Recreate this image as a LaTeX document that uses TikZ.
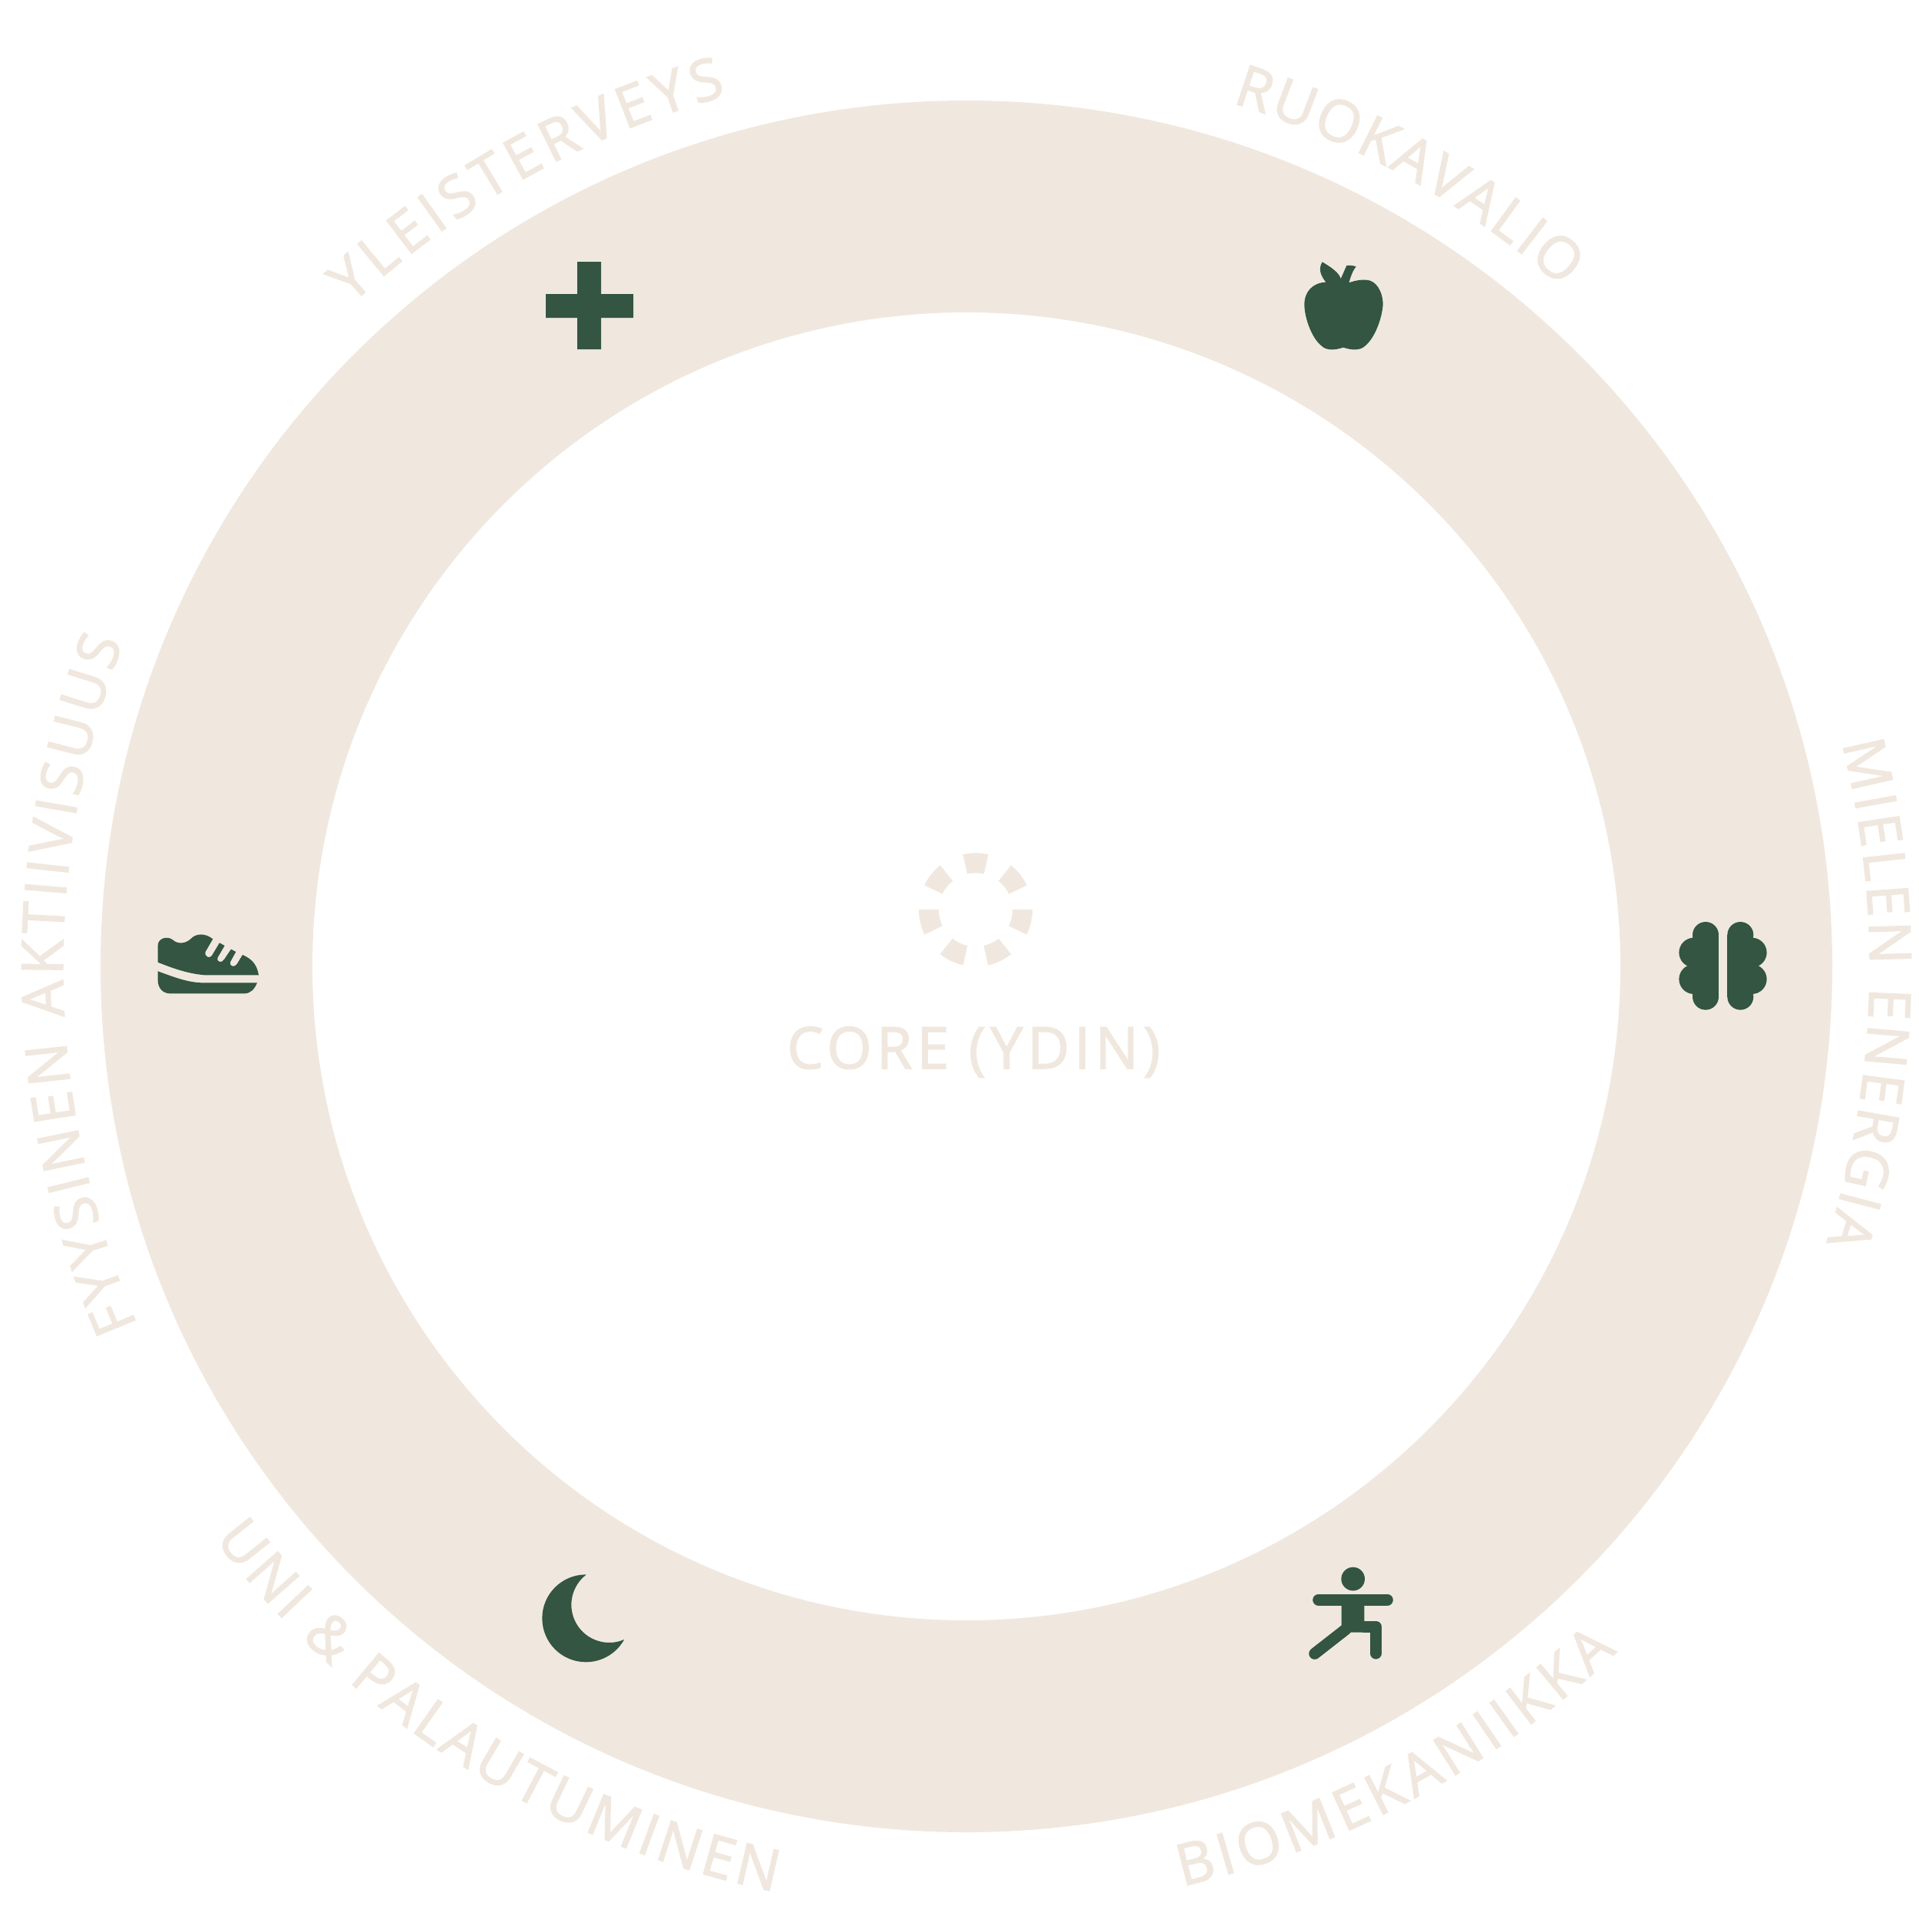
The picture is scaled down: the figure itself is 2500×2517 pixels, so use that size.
\documentclass[tikz,border=0pt]{standalone}
\usepackage{fontspec}
\newfontfamily\lblbase[FakeBold=2]{Open Sans}
\newfontfamily\corebase[FakeBold=2,LetterSpace=8.3]{Open Sans}
\newcommand{\lblfont}{\lblbase\fontsize{75}{90}\selectfont}
\newcommand{\corefont}{\corebase\fontsize{75}{90}\selectfont}
\definecolor{ringc}{HTML}{F0E8DF}
\definecolor{iconc}{HTML}{335542}
\newlength\arclen
\newlength\arcsum
\newlength\arccur
\newlength\arctrack
\newcount\arcn
\newsavebox\arcbox
\newcommand{\measureletter}[1]{%
  \pgfinterruptpicture
  \sbox\arcbox{\lblfont #1}%
  \global\arclen=\wd\arcbox
  \endpgfinterruptpicture
}
% name, baseline radius, start angle, end angle, offset to rotation, letters
\newcommand{\arctext}[6]{%
  \global\arcsum=0pt \global\arcn=0
  \foreach \ltr in {#6}{%
    \measureletter{\ltr}%
    \global\advance\arcsum by \arclen
    \global\advance\arcn by 1
  }%
  \pgfmathsetmacro{\arctot}{abs(#4-#3)*pi/180*#2}%
  \pgfmathsetlength{\arctrack}{(\arctot-\arcsum)/(\arcn-1)}%
  \global\arctrack=\arctrack
  \global\arccur=0pt
  \pgfmathsetmacro{\arcsgn}{(#4>#3)?1:-1}%
  \foreach \ltr [count=\i] in {#6}{%
    \measureletter{\ltr}%
    \pgfmathsetmacro{\arcang}{#3+\arcsgn*(\arccur+0.5*\arclen)/#2*57.29578}%
    \pgfmathsetmacro{\arcrot}{\arcang+#5}%
    \node[lettermark,rotate=\arcrot] (#1\i) at ({1259+#2*cos(\arcang)},{1259-#2*sin(\arcang)}) {\ltr};
    \global\advance\arccur by \arclen
    \global\advance\arccur by \arctrack
  }%
}
\tikzset{
  lettermark/.style={font=\lblfont,text=ringc,inner sep=0pt,outer sep=0pt,anchor=base},
  limb/.style={draw=iconc,line width=15pt,line cap=round,line join=round},
  zoomed/.style n args={2}{shift={(#1,#2)},x=0.3333pt,y=-0.3333pt},
}
\begin{document}
\begin{tikzpicture}[x=1pt,y=-1pt]
\useasboundingbox (0,0) rectangle (2500,2517);
\fill[white] (0,0) rectangle (2500,2517);
% ring
\fill[ringc,even odd rule] (1259,1259) circle[radius=1128] (1259,1259) circle[radius=852];
% core icon
\begin{scope}[shift={(1271,1185.3)}]
\foreach \k in {0,...,6}{
  \pgfmathsetmacro{\aa}{-90+\k*51.4286}
  \fill[ringc] (\aa-13:74) arc[start angle=\aa-13,end angle=\aa+13,radius=74]
     -- (\aa+13:48) arc[start angle=\aa+13,end angle=\aa-13,radius=48] -- cycle;
}
\end{scope}
\node[font=\corefont,text=ringc,inner sep=0pt,anchor=base] (core) at (1268.5,1392) {CORE (YDIN)};
% labels
\arctext{gen}{1177}{132.9}{105.4}{-90}{Y,L,E,I,S,T,E,R,V,E,Y,S}
\arctext{ruo}{1177}{72.9}{48.7}{-90}{R,U,O,K,A,V,A,L,I,O}
\arctext{mie}{1177}{14.3}{-17.8}{-90}{M,I,E,L,E,N,~,E,N,E,R,G,I,A}
\arctext{fyy}{1177}{203.4}{159.0}{-90}{F,Y,Y,S,I,N,E,N,~,A,K,T,I,I,V,I,S,U,U,S}
\arctext{bio}{1231}{-76.8}{-46.5}{90}{B,I,O,M,E,K,A,N,I,I,K,K,A}
\arctext{uni}{1231}{217.3}{258.3}{90}{U,N,I,~,\&,~,P,A,L,A,U,T,U,M,I,N,E,N}
% cross
\fill[iconc] (752,341) -- (783,341) -- (783,383) -- (825,383) -- (825,414) -- (783,414) -- (783,455) -- (752,455) -- (752,414) -- (711,414) -- (711,383) -- (752,383) -- cycle;
% apple
\begin{scope}[zoomed={1650}{300}]
\fill[iconc] (322,205) .. controls (350,195) and (380,190) .. (405,197) .. controls (440,210) and (455,255) .. (455,290) .. controls (452,340) and (425,420) .. (385,452) .. controls (365,472) and (330,468) .. (300,458) .. controls (270,468) and (235,472) .. (215,452) .. controls (175,420) and (148,340) .. (148,290) .. controls (148,240) and (180,205) .. (232,203) .. controls (210,175) and (202,150) .. (218,124) .. controls (245,140) and (285,165) .. (290,190) -- (313,138) .. controls (325,136) and (340,138) .. (350,142) .. controls (335,160) and (328,185) .. (322,205) -- cycle;
\end{scope}
% brain
\begin{scope}[zoomed={2150}{1170}]
\fill[iconc] (216,144) circle[radius=51];
\fill[iconc] (216,386) circle[radius=51];
\fill[iconc] (165,144) rectangle (267,386);
\fill[iconc] (170,213) circle[radius=58];
\fill[iconc] (170,317) circle[radius=58];
\fill[iconc] (352,144) circle[radius=51];
\fill[iconc] (352,386) circle[radius=51];
\fill[iconc] (301,144) rectangle (403,386);
\fill[iconc] (397,213) circle[radius=58];
\fill[iconc] (397,317) circle[radius=58];
\end{scope}
% figure
\begin{scope}[zoomed={1670}{2010}]
\fill[iconc] (278,141) circle[radius=46];
\draw[limb] (143,222.5) -- (412,222.5);
\fill[iconc] (233,240) -- (322,240) -- (322,320) -- (345,320) -- (345,350) -- (270,350) -- (233,323) -- cycle;
\draw[limb] (322,327) -- (367,327) -- (367,432);
\draw[limb] (251,337) -- (128,433);
\end{scope}
% moon
\begin{scope}[zoomed={670}{2020}]
\fill[iconc] (280,94) arc[start angle=-90,end angle=-331,radius=171] arc[start angle=66.7,end angle=232,radius=148] -- cycle;
\end{scope}
% shoe
\begin{scope}[zoomed={180}{1190}]
\fill[iconc] (292,100) -- (263,150) .. controls (258,170) and (280,178) .. (288,165) -- (318,115) -- (338,126) -- (311,172) .. controls (305,192) and (328,195) .. (336,180) -- (363,140) -- (382,150) -- (360,190) .. controls (355,208) and (378,212) .. (386,198) -- (408,162) .. controls (450,180) and (465,205) .. (471,241) -- (260,241) .. controls (190,235) and (130,212) .. (77,191) -- (77,125) .. controls (77,100) and (110,85) .. (135,103) .. controls (155,122) and (185,118) .. (205,100) .. controls (225,78) and (260,75) .. (292,100) -- cycle;
\fill[iconc] (77,226) .. controls (130,245) and (190,270) .. (250,271) -- (465,271) .. controls (455,295) and (440,313) .. (415,313) -- (125,313) .. controls (95,313) and (77,290) .. (77,262) -- cycle;
\end{scope}
\end{tikzpicture}
\end{document}
